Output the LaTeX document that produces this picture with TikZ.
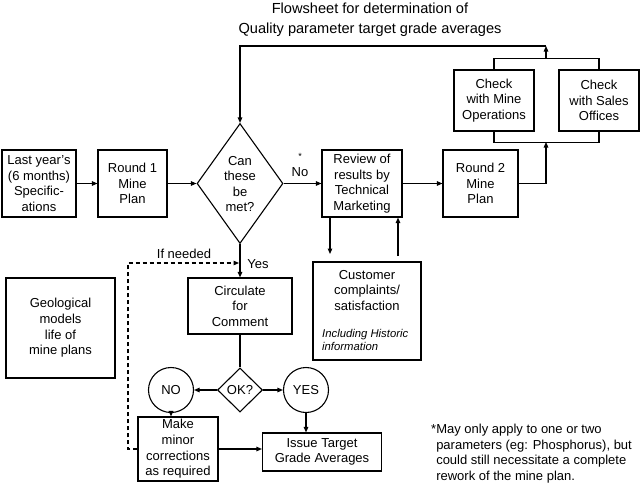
\documentclass[tikz,border=0pt]{standalone}
\usepackage{fontspec}
\setmainfont{Liberation Sans}
\usetikzlibrary{arrows.meta,shapes.geometric}
\begin{document}
\begin{tikzpicture}[x=1pt,y=-1pt,
  every node/.style={font=\fontsize{13}{15.6}\selectfont},
  box/.style={draw,line width=1.1pt,rectangle,align=center,inner sep=0pt},
  dia/.style={draw,line width=1.1pt,diamond,inner sep=0pt},
  circ/.style={draw,line width=1.1pt,circle,inner sep=0pt,minimum size=45pt},
  conn/.style={line width=1.1pt,-{Triangle[length=5.5pt,width=4.5pt]}},
  plain/.style={line width=1.1pt},
  ]
\useasboundingbox (0,0) rectangle (640,485);

% title
\node[font=\fontsize{14.6}{20}\selectfont, align=center] (title) at (370,20) {Flowsheet for determination of\\Quality parameter target grade averages};

% top row
\node[box, minimum width=74pt, minimum height=67pt] (last) at (39,183.5) {Last year's\\(6 months)\\Specific-\\ations};
\node[box, minimum width=69pt, minimum height=67pt] (r1) at (132.5,183.5) {Round 1\\Mine\\Plan};
\node[dia, minimum width=86pt, minimum height=120pt] (can) at (240,183.5) {};
\node[align=center] (cantxt) at (240,184) {Can\\these\\be\\met?};
\node[box, minimum width=80pt, minimum height=67pt] (review) at (362,183.5) {Review of\\results by\\Technical\\Marketing};
\node[box, minimum width=75pt, minimum height=67pt] (r2) at (480.5,183.5) {Round 2\\Mine\\Plan};
\node[box, minimum width=80pt, minimum height=61pt] (chkmine) at (494,100.5) {Check\\with Mine\\Operations};
\node[box, minimum width=80pt, minimum height=61pt] (chksales) at (599,100.5) {Check\\with Sales\\Offices};

\node[font=\fontsize{9}{9}\selectfont] (star) at (300,156) {*};
\node (nolbl) at (300,172) {No};

% customer box
\node[box, minimum width=108pt, minimum height=98pt] (cust) at (367,311) {};
\node[align=center] (custtxt) at (367,290.5) {Customer\\complaints/\\satisfaction};
\node[anchor=west, align=left, inner sep=0pt, font=\fontsize{11.3}{13}\selectfont\itshape] (custit) at (322,340) {Including Historic\\information};

% left box
\node[box, minimum width=109pt, minimum height=100pt] (geo) at (60.5,328) {Geological\\models\\life of\\mine plans};

% lower part
\node[box, minimum width=104pt, minimum height=56pt] (circ) at (240,306) {Circulate\\for\\Comment};
\node[dia, minimum width=45pt, minimum height=44pt] (ok) at (240,390) {};
\node (oktxt) at (240,390) {OK?};
\node[circ] (no) at (171,390) {NO};
\node[circ] (yes) at (306,390) {YES};
\node[box, minimum width=80pt, minimum height=64pt] (make) at (178,449) {Make\\minor\\corrections\\as required};
\node[box, minimum width=119pt, minimum height=38pt] (issue) at (322,452) {Issue Target\\Grade Averages};

\node (yeslbl) at (258,264) {Yes};
\node (ifneed) at (184,254) {If needed};

\node[anchor=west, align=left, inner sep=0pt] (foot) at (431,453.5) {*May only apply to one or two\\\hphantom{*}parameters (eg: Phosphorus), but\\\hphantom{*}could still necessitate a complete\\\hphantom{*}rework of the mine plan.};

% coordinates
\coordinate (lb) at (546,142);
\coordinate (ub) at (546,59);
\coordinate (tl) at (546,46);
\coordinate (c1) at (330,254);
\coordinate (c2) at (398,256);
\coordinate (dc) at (128,263);
\coordinate (dt) at (239,263);

% connectors
\draw[conn] (last) -- (r1);
\draw[conn] (r1) -- (can);
\draw[conn] (can) -- (review);
\draw[conn] (review) -- (r2);
\draw[conn] (r2.east) -| (lb);
\draw[plain] (chkmine.south) -- ++(0,11) -| (chksales.south);
\draw[plain] (chkmine.north) -- ++(0,-11) -| (chksales.north);
\draw[conn] (ub) -- (tl);
\draw[conn] (tl) -| (can.north);
\draw[conn] (review.south -| c1) -- (c1);
\draw[conn] (c2) -- (review.south -| c2);
\draw[conn] (can.south) -- (circ.north);
\draw[conn, dash pattern=on 4pt off 3pt] (make.west) -| (dc) -- (dt);
\draw[plain] (circ.south) -- (ok.north);
\draw[conn] (ok.west) -- (no.east);
\draw[conn] (ok.east) -- (yes.west);
\draw[conn] (no.south) -- (no.south |- make.north);
\draw[conn] (yes.south) -- (yes.south |- issue.north);
\draw[conn] (make.east) -- (make.east -| issue.west);
\end{tikzpicture}
\end{document}
